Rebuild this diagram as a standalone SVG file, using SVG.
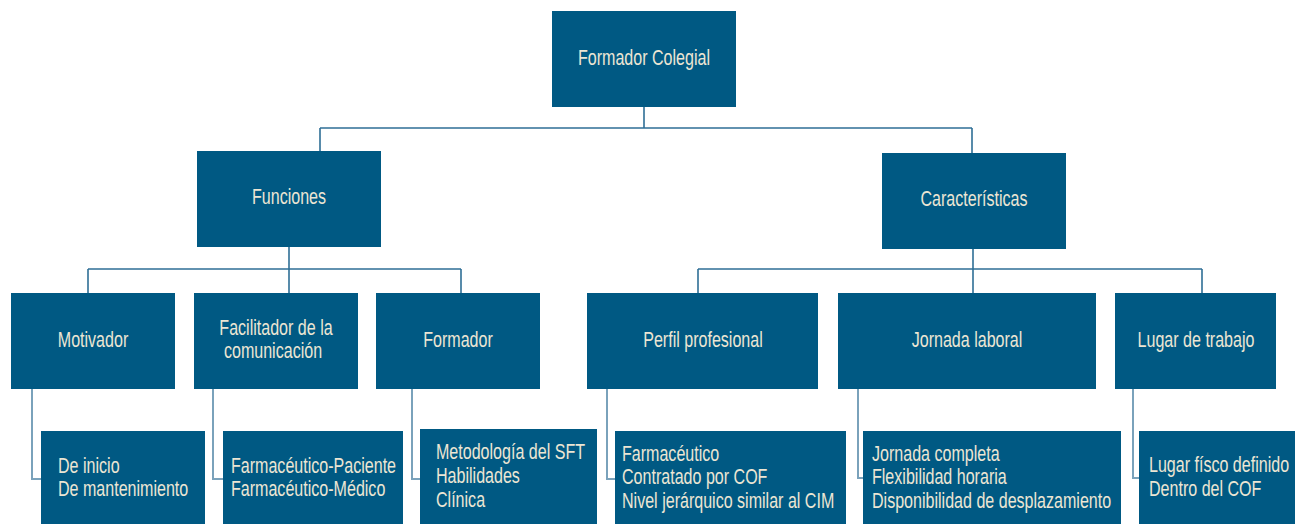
<svg xmlns="http://www.w3.org/2000/svg" width="1300" height="524" viewBox="0 0 1300 524">
<style>
.box{fill:#005983}
.t{font-family:"Liberation Sans",Arial,sans-serif;font-size:22px;fill:#ece6d4}
.c{text-anchor:middle}
.ln{fill:none;stroke:#2f6f96;stroke-width:1.6}
.ln2{fill:none;stroke:#7aa2bb;stroke-width:2}
</style>
<rect width="1300" height="524" fill="#ffffff"/>
<g id="connectors">
<path class="ln" d="M644 107V128M320 128H972M320 128V151M972 128V153"/>
<path class="ln" d="M289 247V293M88 269H461M88 269V293M461 269V293"/>
<path class="ln" d="M973 249V293M698 269H1202M698 269V293M1202 269V293"/>
<path class="ln2" d="M32 389V479H41M213 389V479H223M412 389V479H420M607 389V479H615M858 389V478H863M1133 389V478H1139"/>
</g>
<g id="n-root"><rect class="box" x="552" y="11" width="184" height="96"/><text class="t c" transform="translate(644 65) scale(.73 1)">Formador Colegial</text></g>
<g id="n-funciones"><rect class="box" x="197" y="151" width="184" height="96"/><text class="t c" transform="translate(289 204) scale(.73 1)">Funciones</text></g>
<g id="n-caracteristicas"><rect class="box" x="882" y="153" width="184" height="96"/><text class="t c" transform="translate(974 206) scale(.73 1)">Características</text></g>
<g id="n-motivador"><rect class="box" x="11" y="293" width="164" height="96"/><text class="t c" transform="translate(93 347) scale(.73 1)">Motivador</text></g>
<g id="n-facilitador"><rect class="box" x="194" y="293" width="164" height="96"/><text class="t c" transform="translate(276 335) scale(.73 1)">Facilitador de la</text><text class="t c" transform="translate(273 358) scale(.73 1)">comunicación</text></g>
<g id="n-formador"><rect class="box" x="376" y="293" width="164" height="96"/><text class="t c" transform="translate(458 347) scale(.73 1)">Formador</text></g>
<g id="n-perfil"><rect class="box" x="587" y="293" width="231" height="96"/><text class="t c" transform="translate(703 347) scale(.73 1)">Perfil profesional</text></g>
<g id="n-jornada"><rect class="box" x="838" y="293" width="258" height="96"/><text class="t c" transform="translate(967 347) scale(.73 1)">Jornada laboral</text></g>
<g id="n-lugar"><rect class="box" x="1115" y="293" width="161" height="96"/><text class="t c" transform="translate(1196 347) scale(.73 1)">Lugar de trabajo</text></g>
<g id="n-motivador-items"><rect class="box" x="41" y="431" width="164" height="93"/><text class="t" transform="translate(58 473) scale(.73 1)">De inicio</text><text class="t" transform="translate(58 496) scale(.73 1)">De mantenimiento</text></g>
<g id="n-facilitador-items"><rect class="box" x="223" y="431" width="180" height="93"/><text class="t" transform="translate(231 473) scale(.73 1)">Farmacéutico-Paciente</text><text class="t" transform="translate(231 496) scale(.73 1)">Farmacéutico-Médico</text></g>
<g id="n-formador-items"><rect class="box" x="420" y="429" width="177" height="95"/><text class="t" transform="translate(436 459) scale(.73 1)">Metodología del SFT</text><text class="t" transform="translate(436 483) scale(.73 1)">Habilidades</text><text class="t" transform="translate(436 507) scale(.73 1)">Clínica</text></g>
<g id="n-perfil-items"><rect class="box" x="615" y="431" width="231" height="93"/><text class="t" transform="translate(622 461) scale(.73 1)">Farmacéutico</text><text class="t" transform="translate(622 484) scale(.73 1)">Contratado por COF</text><text class="t" transform="translate(622 508) scale(.73 1)">Nivel jerárquico similar al CIM</text></g>
<g id="n-jornada-items"><rect class="box" x="863" y="431" width="258" height="93"/><text class="t" transform="translate(872 461) scale(.73 1)">Jornada completa</text><text class="t" transform="translate(872 484) scale(.73 1)">Flexibilidad horaria</text><text class="t" transform="translate(872 508) scale(.73 1)">Disponibilidad de desplazamiento</text></g>
<g id="n-lugar-items"><rect class="box" x="1139" y="431" width="156" height="93"/><text class="t" transform="translate(1149 472) scale(.73 1)">Lugar físco definido</text><text class="t" transform="translate(1149 496) scale(.73 1)">Dentro del COF</text></g>
</svg>
